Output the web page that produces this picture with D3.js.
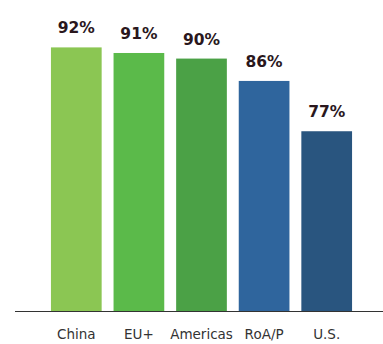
<!DOCTYPE html>
<html>
<head>
<meta charset="utf-8">
<script src="https://cdn.jsdelivr.net/npm/d3@7"></script>
<style>
  html, body { margin: 0; padding: 0; background: #fff; }
  svg { display: block; }
</style>
</head>
<body>
<svg id="chart" width="383" height="344"></svg>
<script>
// Share of respondents by region
const categories = ["China", "EU+", "Americas", "RoA/P", "U.S."];
const values = [92, 91, 90, 86, 77];
const barColors = ["#8bc653", "#5bba4a", "#4ba146", "#2f659d", "#29557f"];

const svg = d3.select("#chart");
const baseY = 311.5;

const x = d3.scaleBand()
  .domain(categories)
  .range([45, 358])
  .paddingInner(0.19)
  .paddingOuter(0.095);

// Truncated value axis so the differences between regions stay visible
const y = d3.scaleLinear()
  .domain([44.75, 92])
  .range([baseY, 47.4]);

const data = categories.map((c, i) => ({ cat: c, value: values[i], color: barColors[i] }));

svg.append("g")
  .selectAll("rect")
  .data(data)
  .join("rect")
  .attr("x", d => x(d.cat))
  .attr("width", x.bandwidth())
  .attr("y", d => y(d.value))
  .attr("height", d => baseY - y(d.value))
  .attr("fill", d => d.color);

svg.append("g")
  .selectAll("text")
  .data(data)
  .join("text")
  .attr("x", d => x(d.cat) + x.bandwidth() / 2)
  .attr("y", d => y(d.value) - 14)
  .attr("text-anchor", "middle")
  .attr("font-family", "DejaVu Sans, sans-serif")
  .attr("font-weight", "bold")
  .attr("font-size", 15.5)
  .attr("fill", "#2a171d")
  .text(d => d.value + "%");

// Category axis
const axis = svg.append("g")
  .attr("transform", `translate(0,${baseY})`)
  .call(d3.axisBottom(x).tickSize(0).tickPadding(0));
axis.select(".domain").remove();
axis.selectAll(".tick text")
  .attr("y", 27)
  .attr("dy", 0)
  .attr("font-family", "DejaVu Sans, sans-serif")
  .attr("font-size", 13.5)
  .attr("fill", "#333");

svg.append("line")
  .attr("x1", 15).attr("x2", 383)
  .attr("y1", baseY).attr("y2", baseY)
  .attr("stroke", "#333")
  .attr("stroke-width", 1);
</script>
</body>
</html>
